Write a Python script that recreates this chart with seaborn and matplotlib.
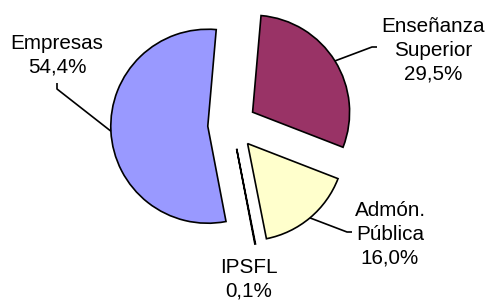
import matplotlib
matplotlib.use("Agg")
import matplotlib.pyplot as plt
import seaborn as sns
import numpy as np

# ---- data ----
categories = ["Enseñanza\nSuperior", "Admón.\nPública", "IPSFL", "Empresas"]
shares = [29.5, 16.0, 0.1, 54.4]
share_labels = ["29,5%", "16,0%", "0,1%", "54,4%"]
colors = ["#993366", "#FFFFCC", "#CCFFFF", "#9999FF"]

sns.set_theme(style="white")
plt.rcParams['font.family'] = ['Liberation Sans', 'DejaVu Sans']

W, H, DPI = 489, 300, 100
fig = plt.figure(figsize=(W / DPI, H / DPI), dpi=DPI)
fig.patch.set_facecolor("white")
ax = fig.add_axes([0, 0, 1, 1])

# layout (pixels): pie centre and radius
CX, CY, R = 232, 125, 97

wedges, _ = ax.pie(shares, colors=colors, startangle=85, counterclock=False,
                   explode=[0.25] * len(shares), radius=1,
                   wedgeprops=dict(edgecolor="black", linewidth=1.2))
ax.set_xlim(-CX / R, (W - CX) / R)
ax.set_ylim(-(H - CY) / R, CY / R)
ax.set_aspect("auto")
ax.axis("off")


def px(x, y):
    return ((x - CX) / R, (CY - y) / R)


# label layout: text centre (pixels), leader polyline end points (pixels)
text_pos = [(433, 50), (390, 234), (249, 279), (57, 55)]
leader_pts = [[(372, 47), (377, 47)],
              [(347, 232), (352, 232)],
              None,
              [(57, 89), (57, 83)]]

for w, cat, lab, tp, lp in zip(wedges, categories, share_labels, text_pos, leader_pts):
    tx, ty = px(*tp)
    ax.text(tx, ty, f"{cat}\n{lab}", ha="center", va="center",
            fontsize=14.9, linespacing=1.3, color="black")
    if lp is not None:
        mid = np.deg2rad((w.theta1 + w.theta2) / 2)
        cx, cy = w.center
        sx, sy = cx + w.r * np.cos(mid), cy + w.r * np.sin(mid)
        xs = [sx] + [px(*p)[0] for p in lp]
        ys = [sy] + [px(*p)[1] for p in lp]
        ax.plot(xs, ys, color="black", linewidth=1.2, solid_capstyle="butt")

fig.savefig("out.png", dpi=DPI, facecolor="white")
